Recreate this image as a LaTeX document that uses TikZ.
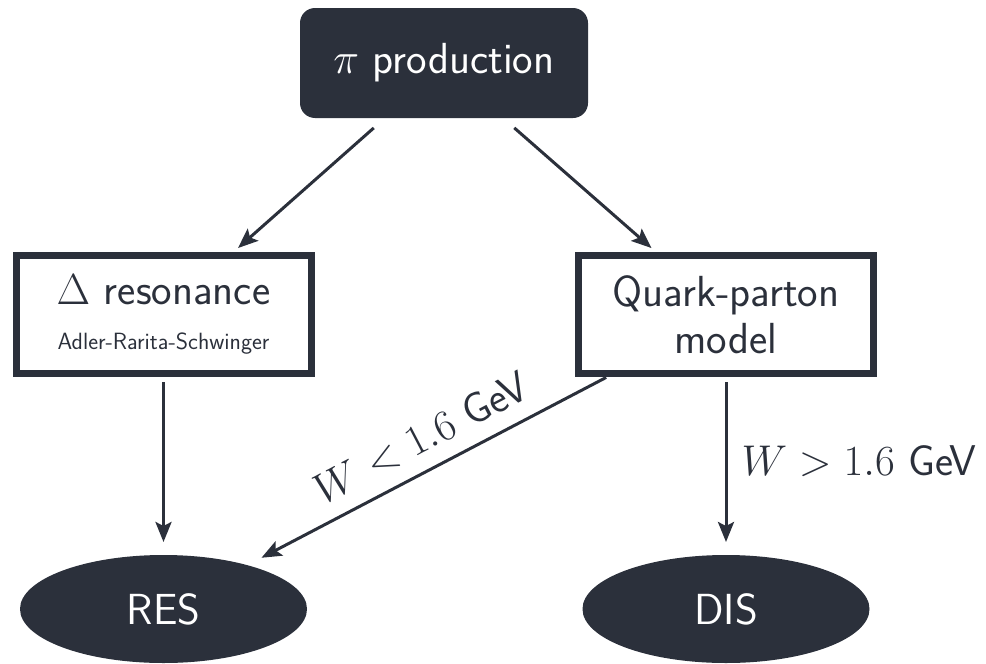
\RequirePackage{fix-cm}
\documentclass[tikz,border=0pt]{standalone}
\usetikzlibrary{shapes.geometric,arrows.meta,calc}
\definecolor{ink}{HTML}{2B303B}

\begin{document}
\begin{tikzpicture}[x=1pt,y=-1pt,
  every node/.style={text=ink},
  bigtext/.style={font=\sffamily\fontsize{43.5}{47}\selectfont},
  darkbox/.style={bigtext, fill=ink, text=white, rounded corners=15pt,
    minimum width=288pt, minimum height=110pt, inner sep=0pt, outer sep=0pt},
  framebox/.style={bigtext, draw=ink, line width=7pt, minimum width=295pt,
    minimum height=118pt, inner sep=0pt, align=center},
  darkoval/.style={bigtext, ellipse, fill=ink, text=white, minimum width=287pt,
    minimum height=108pt, inner sep=0pt, outer sep=0pt},
  conn/.style={draw=ink, line width=3pt,
    -{Stealth[length=20pt,width=16pt,inset=4pt]}},
  cut/.style={font=\sffamily\fontsize{43}{50}\selectfont, inner sep=0pt},
]
\useasboundingbox (0,0) rectangle (986,664);

% process boxes
\node[darkbox] (top) at (444,63) {$\pi$ production};
\node[framebox] (delta) at (163.5,314.5)
  {$\Delta$ resonance\\[-2pt]{\fontsize{23.5}{28}\selectfont Adler-Rarita-Schwinger}};
\node[framebox] (quark) at (726,314.5) {Quark-parton\\model};
\node[darkoval] (res) at (163.5,609) {RES};
\node[darkoval] (dis) at (726,609) {DIS};

% connectors
\draw[conn, shorten <=15pt, shorten >=6pt]
  ([xshift=-59pt]top.south) -- ([xshift=70pt]delta.north);
\draw[conn, shorten <=15pt, shorten >=6pt]
  ([xshift=59pt]top.south) -- ([xshift=-70pt]quark.north);
\draw[conn, shorten <=5pt, shorten >=13pt] (delta) -- (res);
\draw[conn, shorten <=5pt, shorten >=13pt] (quark) -- (dis)
  node[cut, right=14pt, pos=0.47] {$W > 1.6$ GeV};
\draw[conn, shorten <=1pt, shorten >=16pt] ([xshift=32pt]quark.south west) -- (res)
  node[cut, sloped, above=15pt, pos=0.475] {$W < 1.6$ GeV};
\end{tikzpicture}
\end{document}
